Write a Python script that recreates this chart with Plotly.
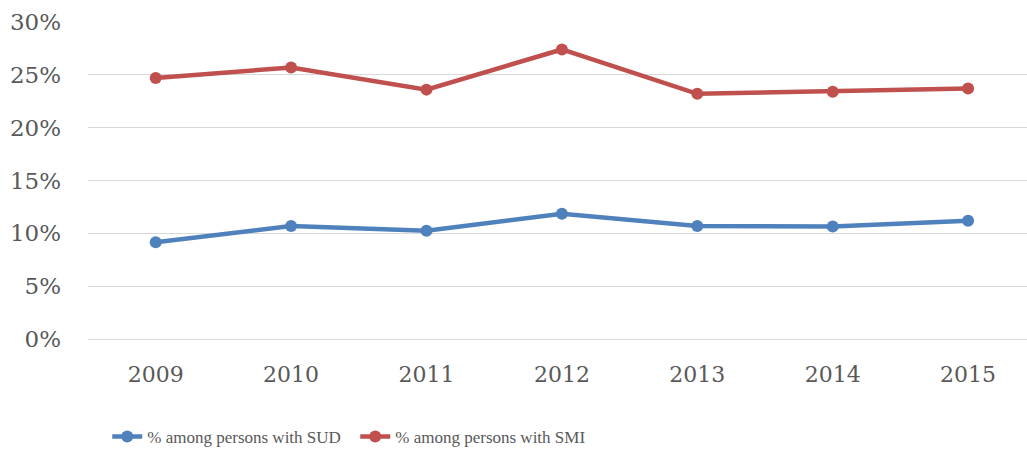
import plotly.graph_objects as go

years = ["2009", "2010", "2011", "2012", "2013", "2014", "2015"]
sud = [0.0915, 0.107, 0.1025, 0.1185, 0.107, 0.1065, 0.112]
smi = [0.247, 0.257, 0.236, 0.274, 0.232, 0.234, 0.237]
y_ticks = [0, 0.05, 0.10, 0.15, 0.20, 0.25, 0.30]
y_labels = ["0%", "5%", "10%", "15%", "20%", "25%", "30%"]

blue = "#4F81BD"
red = "#C0504D"
text_col = "#595959"
grid_col = "#D9D9D9"

fig = go.Figure()
fig.add_trace(go.Scatter(x=years, y=sud, mode="lines+markers",
                         name="% among persons with SUD",
                         line=dict(color=blue, width=4.5),
                         marker=dict(color=blue, size=12)))
fig.add_trace(go.Scatter(x=years, y=smi, mode="lines+markers",
                         name="% among persons with SMI",
                         line=dict(color=red, width=4.5),
                         marker=dict(color=red, size=12)))

fig.update_layout(
    width=1027, height=453,
    margin=dict(l=88, r=0, t=22, b=114, autoexpand=False),
    plot_bgcolor="white", paper_bgcolor="white",
    font=dict(family="DejaVu Serif", color=text_col, size=22),
    showlegend=True,
    legend=dict(orientation="h", x=0.0205, xanchor="left", y=-0.309, yanchor="middle",
                font=dict(family="Liberation Serif", size=17, color=text_col),
                entrywidth=203, entrywidthmode="pixels",
                itemwidth=30, bgcolor="rgba(0,0,0,0)"),
)
fig.update_xaxes(type="category", range=[-0.5, 6.435], showgrid=False,
                 showline=False, ticks="", ticklabelstandoff=20,
                 tickfont=dict(family="DejaVu Serif", size=22, color=text_col))
fig.update_yaxes(range=[0, 0.30], tickvals=y_ticks, ticktext=y_labels,
                 showgrid=True, gridcolor=grid_col, gridwidth=1.2,
                 zeroline=True, zerolinecolor=grid_col, zerolinewidth=1.2,
                 showline=False, ticks="", ticklabelstandoff=26,
                 tickfont=dict(family="DejaVu Serif", size=23, color=text_col))

fig.write_html("out.html", config={"displayModeBar": False},
               post_script="document.body.style.margin='0';document.body.style.overflow='hidden';")
